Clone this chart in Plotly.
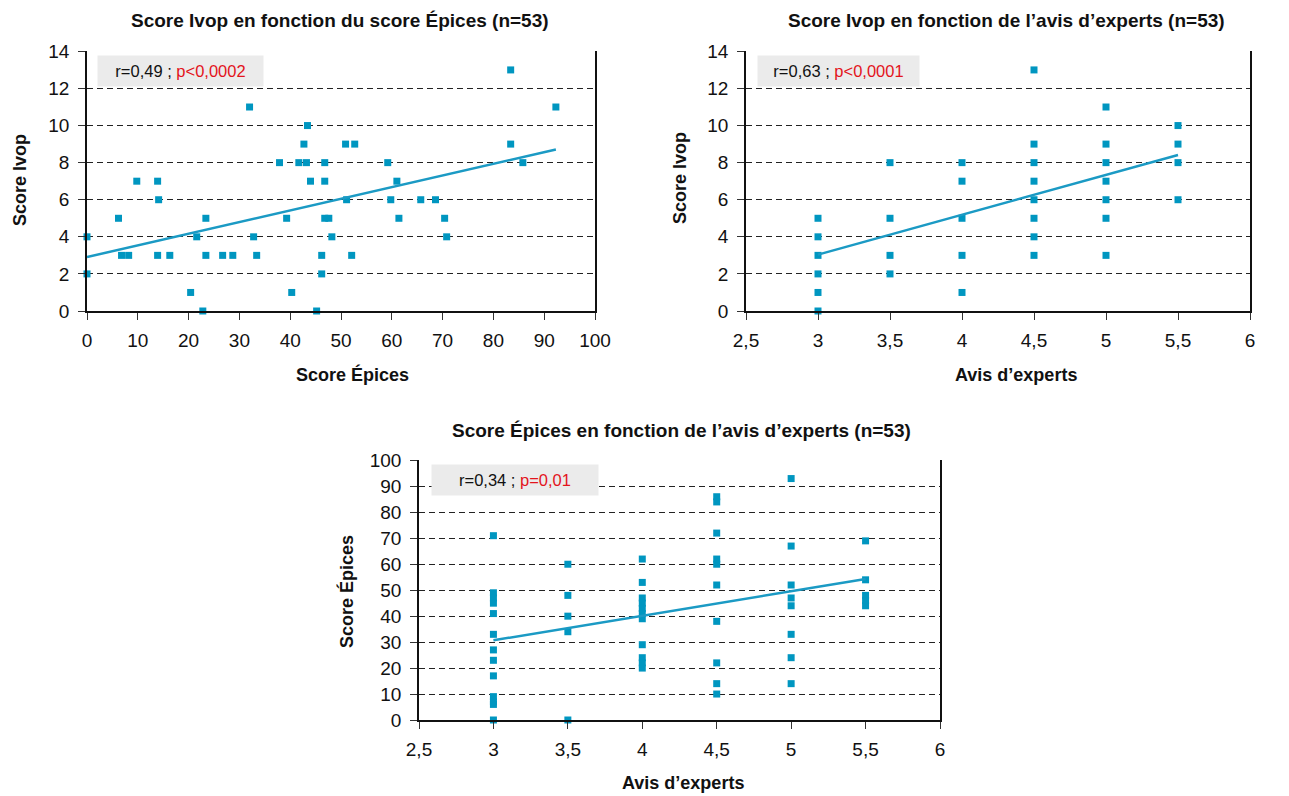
import plotly.graph_objects as go

# ---------------- data ----------------
epices_1 = [0, 0, 6.2, 6.8, 8.2, 9.8, 13.9, 14.1, 13.9, 16.3, 20.4, 21.6, 22.8, 23.4, 23.4,
            26.7, 28.7, 32, 32.8, 33.4, 37.9, 39.3, 40.3, 41.7, 42.7, 43.4, 43.2, 44, 45.2,
            46.2, 46.2, 46.8, 46.8, 46.8, 47.6, 48.2, 50.9, 52.7, 51.1, 52.1, 83.4, 92.3,
            83.4, 85.8, 59.2, 61, 59.8, 65.7, 68.6, 61.4, 70.4, 70.8]
ivop_1 = [4, 2, 5, 3, 3, 7, 7, 6, 3, 3, 1, 4, 0, 5, 3,
          3, 3, 11, 4, 3, 8, 5, 1, 8, 9, 10, 8, 7, 0,
          3, 2, 8, 7, 5, 5, 4, 9, 9, 6, 3, 13, 11,
          9, 8, 8, 7, 6, 6, 6, 5, 5, 4]

avis_2 = [3, 3, 3, 3, 3, 3,
          3.5, 3.5, 3.5, 3.5,
          4, 4, 4, 4, 4,
          4.5, 4.5, 4.5, 4.5, 4.5, 4.5, 4.5, 4.5,
          5, 5, 5, 5, 5, 5, 5,
          5.5, 5.5, 5.5, 5.5]
ivop_2 = [0, 1, 2, 3, 4, 5,
          2, 3, 5, 8,
          1, 3, 5, 7, 8,
          3, 4, 5, 6, 7, 8, 9, 13,
          3, 5, 6, 7, 8, 9, 11,
          6, 8, 9, 10]

avis_3 = [3] * 13 + [3.5] * 5 + [4] * 11 + [4.5] * 10 + [5] * 8 + [5.5] * 5
epices_3 = [71, 49, 47, 45, 41, 33, 27, 23, 17, 9, 7, 6, 0,
            60, 48, 40, 34, 0,
            62, 53, 47, 45, 43, 41, 39, 29, 24, 22, 20,
            86, 84, 72, 62, 60, 52, 38, 22, 14, 10,
            93, 67, 52, 47, 44, 33, 24, 14,
            69, 54, 48, 46, 44]

# linear trend coefficients (intercept, slope)
trend_1 = [2.91, 0.0628]
trend_2 = [-3.41, 2.15]
trend_3 = [2.38, 9.44]

titles = ["Score Ivop en fonction du score Épices (n=53)",
          "Score Ivop en fonction de l’avis d’experts (n=53)",
          "Score Épices en fonction de l’avis d’experts (n=53)"]
x_titles = ["Score Épices", "Avis d’experts", "Avis d’experts"]
y_titles = ["Score Ivop", "Score Ivop", "Score Épices"]
stats_r = ["r=0,49 ; ", "r=0,63 ; ", "r=0,34 ; "]
stats_p = ["p&lt;0,0002", "p&lt;0,0001", "p=0,01"]

# ---------------- figure ----------------
OFF = 8                     # default page margin around the plot div
W, H = 1289 - OFF, 796 - OFF
FONT = "Liberation Sans Narrow, Arial Narrow, Liberation Sans, Arial, sans-serif"
MARK = "#0096c0"
LINE = "#1b9ac4"

fig = go.Figure()

sets = [(epices_1, ivop_1, trend_1, "x", "y"),
        (avis_2, ivop_2, trend_2, "x2", "y2"),
        (avis_3, epices_3, trend_3, "x3", "y3")]
for xs, ys, tr, xa, ya in sets:
    fig.add_trace(go.Scatter(x=xs, y=ys, mode="markers", xaxis=xa, yaxis=ya,
                             marker=dict(symbol="square", size=7, color=MARK),
                             cliponaxis=False, showlegend=False, hoverinfo="x+y"))
    lx = [min(xs), max(xs)]
    ly = [tr[0] + tr[1] * v for v in lx]
    fig.add_trace(go.Scatter(x=lx, y=ly, mode="lines", xaxis=xa, yaxis=ya,
                             line=dict(color=LINE, width=2.5),
                             showlegend=False, hoverinfo="skip"))

def fx(p):
    return (p - OFF) / W

def fy(p):
    return 1 - (p - OFF) / H

dom = {
    1: ([fx(87), fx(595)], [fy(311), fy(51)]),
    2: ([fx(746), fx(1250)], [fy(311), fy(51)]),
    3: ([fx(419), fx(940)], [fy(720), fy(460)]),
}

tickfont = dict(family=FONT, size=19, color="#111")

common_x = dict(showline=True, linecolor="#111", linewidth=1.5, ticks="outside",
                ticklen=7, tickcolor="#333", tickwidth=1.2, showgrid=False,
                zeroline=False, tickfont=tickfont, mirror=False, automargin=False,
                ticklabelstandoff=4)
common_y = dict(showline=True, linecolor="#111", linewidth=1.5, ticks="outside",
                ticklen=7, tickcolor="#333", tickwidth=1.2, showgrid=True,
                gridcolor="#222", gridwidth=1, griddash="6px,4px",
                zeroline=False, tickfont=tickfont, mirror=True, automargin=False,
                ticklabelstandoff=5)

xaxes = {
    1: dict(range=[0, 100], dtick=10, tick0=0),
    2: dict(range=[2.5, 6], dtick=0.5, tick0=2.5),
    3: dict(range=[2.5, 6], dtick=0.5, tick0=2.5),
}
yaxes = {
    1: dict(range=[0, 14.02], dtick=2, tick0=0),
    2: dict(range=[0, 14.02], dtick=2, tick0=0),
    3: dict(range=[0, 100.15], dtick=10, tick0=0),
}

layout = dict(width=W, height=H, margin=dict(l=0, r=0, t=0, b=0),
              plot_bgcolor="white", paper_bgcolor="white",
              separators=", ", font=dict(family=FONT, color="#111"))
for i in (1, 2, 3):
    sx = "" if i == 1 else str(i)
    layout["xaxis" + sx] = dict(common_x, domain=dom[i][0], anchor="y" + sx, **xaxes[i])
    layout["yaxis" + sx] = dict(common_y, domain=dom[i][1], anchor="x" + sx, **yaxes[i])
fig.update_layout(**layout)

# titles, axis titles and stat boxes (page-pixel positions of the text centres)
title_pos = [(340, 20), (1006, 20), (681, 430)]
xt_pos = [(352, 374), (1016, 375), (683, 783)]
yt_pos = [(20, 180), (680, 178), (346, 592)]
box_pos = [(97, 55, 165), (757, 55, 161), (431, 464, 166)]
for i in range(3):
    fig.add_annotation(text="<b>" + titles[i] + "</b>", xref="paper", yref="paper",
                       x=fx(title_pos[i][0]), y=fy(title_pos[i][1]),
                       xanchor="center", yanchor="middle", showarrow=False,
                       font=dict(family=FONT, size=19, color="#111"))
    fig.add_annotation(text="<b>" + x_titles[i] + "</b>", xref="paper", yref="paper",
                       x=fx(xt_pos[i][0]), y=fy(xt_pos[i][1]),
                       xanchor="center", yanchor="middle", showarrow=False,
                       font=dict(family=FONT, size=18, color="#111"))
    fig.add_annotation(text="<b>" + y_titles[i] + "</b>", xref="paper", yref="paper",
                       x=fx(yt_pos[i][0]), y=fy(yt_pos[i][1]), textangle=-90,
                       xanchor="center", yanchor="middle", showarrow=False,
                       font=dict(family=FONT, size=18, color="#111"))
    bx, by, bw = box_pos[i]
    fig.add_annotation(text=stats_r[i] + "<span style='color:#e3141c'>" + stats_p[i] + "</span>",
                       xref="paper", yref="paper", x=fx(bx), y=fy(by),
                       xanchor="left", yanchor="top", showarrow=False,
                       width=bw, height=30, borderpad=0, bgcolor="#ebebeb",
                       align="center", valign="middle",
                       font=dict(family=FONT, size=16.5, color="#111"))

fig.write_html("out.html")
